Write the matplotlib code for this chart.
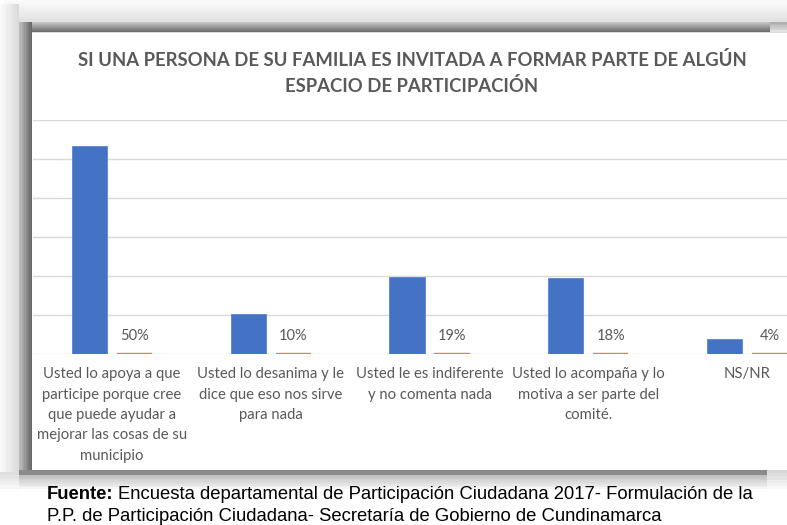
import matplotlib
matplotlib.use("Agg")
import matplotlib.pyplot as plt
from matplotlib.patches import Rectangle
import numpy as np

# ---------------- data ----------------
categories = [
    "Usted lo apoya a que\nparticipe porque cree\nque puede ayudar a\nmejorar las cosas de su\nmunicipio",
    "Usted lo desanima y le\ndice que eso nos sirve\npara nada",
    "Usted le es indiferente\ny no comenta nada",
    "Usted lo acompaña y lo\nmotiva a ser parte del\ncomité.",
    "NS/NR",
]
counts = [534, 102, 198, 194, 39]          # blue series (frequency)
percents = [0.50, 0.10, 0.19, 0.18, 0.04]   # orange series (share)
pct_labels = ["50%", "10%", "19%", "18%", "4%"]

title = "SI UNA PERSONA DE SU FAMILIA ES INVITADA A FORMAR PARTE DE ALGÚN\nESPACIO DE PARTICIPACIÓN"
source_bold = "Fuente:"
source_line1 = "Encuesta departamental de Participación Ciudadana 2017- Formulación de la"
source_line2 = "P.P. de Participación Ciudadana- Secretaría de Gobierno de Cundinamarca"

# ---------------- figure ----------------
W, H = 787, 525
DPI = 100
fig = plt.figure(figsize=(W / DPI, H / DPI), dpi=DPI)
fig.patch.set_facecolor("white")

# background frame axes in pixel coordinates (y downwards)
bg = fig.add_axes([0, 0, 1, 1])
bg.set_xlim(0, W)
bg.set_ylim(H, 0)
bg.axis("off")


def grad_rect(x0, x1, y0, y1, c0, c1, horizontal=True, n=12):
    """gradient rectangle from grey value c0 to c1"""
    for i in range(n):
        t = i / max(n - 1, 1)
        c = c0 + (c1 - c0) * t
        col = (c / 255, c / 255, c / 255)
        if horizontal:
            xa = x0 + (x1 - x0) * i / n
            xb = x0 + (x1 - x0) * (i + 1) / n
            bg.add_patch(Rectangle((xa, y0), xb - xa + 0.3, y1 - y0, color=col, lw=0))
        else:
            ya = y0 + (y1 - y0) * i / n
            yb = y0 + (y1 - y0) * (i + 1) / n
            bg.add_patch(Rectangle((x0, ya), x1 - x0, yb - ya + 0.3, color=col, lw=0))


# light halo
grad_rect(4, W, 0, 22, 250, 226, horizontal=False, n=8)
grad_rect(0, 19, 4, 482, 250, 218, horizontal=True, n=8)
# dark top band
grad_rect(19, 770, 22, 32, 195, 108, horizontal=False, n=10)
grad_rect(770, W, 22, 32, 175, 225, horizontal=False, n=6)
# dark left band
grad_rect(19, 32, 22, 472, 190, 104, horizontal=True, n=10)
# bottom band
bg.add_patch(Rectangle((19, 470), 748, 5, color="#8a8a8a", lw=0))
grad_rect(19, 767, 475, 489, 192, 245, horizontal=False, n=8)
grad_rect(767, W, 470, 489, 215, 248, horizontal=False, n=6)
grad_rect(0, 19, 472, 492, 222, 252, horizontal=False, n=6)
# white chart panel
bg.add_patch(Rectangle((32, 33), W - 32, 437, color="white", lw=0))
bg.add_patch(Rectangle((32, 32), W - 32, 1.2, color="#dcdcdc", lw=0))

# ---------------- chart axes ----------------
left_px, right_px = 32.6, 826.4
top_px, base_px = 120, 354
ax = fig.add_axes([left_px / W, (H - base_px) / H,
                   (right_px - left_px) / W, (base_px - top_px) / H])
ax.set_facecolor("none")

x = np.arange(len(categories))
bw = 0.222
off = 0.142
ax.bar(x - off, counts, bw, color="#4472C4", edgecolor="#5b84cf",
       linewidth=0.6, zorder=3)
ax.bar(x + off, percents, bw, color="#ED7D31", edgecolor="#ED7D31",
       linewidth=1.7, zorder=4)

for xi, p, lab in zip(x, percents, pct_labels):
    ax.annotate(lab, (xi + off, p), xytext=(0, 12.6), textcoords="offset points",
                ha="center", va="center", fontsize=10.5, color="#595959",
                family=["Lato", "DejaVu Sans"])

ax.set_xlim(-0.5, len(categories) - 0.5)
ax.set_ylim(0, 600)
ax.set_yticks(np.arange(0, 601, 100))
ax.set_yticklabels([])
ax.tick_params(axis="y", length=0)
ax.grid(axis="y", color="#d9d9d9", linewidth=1.0, zorder=0)
ax.set_axisbelow(True)
for s in ax.spines.values():
    s.set_visible(False)

ax.set_xticks(x)
ax.set_xticklabels(categories, fontsize=10.7, color="#595959",
                   family=["Lato", "DejaVu Sans"], linespacing=1.58, va="top")
ax.tick_params(axis="x", length=0, pad=9.5)

# ---------------- title ----------------
fig.text(412 / W, 1 - 73 / H, title, ha="center", va="center",
         fontsize=13.3, fontweight="bold", color="#595959",
         family=["Lato", "DejaVu Sans"], linespacing=1.58)

# ---------------- source ----------------
fx = 46.7 / W
fs = 13.3
t1 = fig.text(fx, 1 - 499.3 / H, source_bold, ha="left", va="baseline",
              fontsize=fs, fontweight="bold", color="black",
              family=["Liberation Sans", "DejaVu Sans"])
fig.canvas.draw()
r = fig.canvas.get_renderer()
wb = t1.get_window_extent(r).width
fig.text(fx + (wb + 5.0) / W, 1 - 499.3 / H, source_line1, ha="left", va="baseline",
         fontsize=fs, color="black", family=["Liberation Sans", "DejaVu Sans"])
fig.text(fx, 1 - 520.7 / H, source_line2, ha="left", va="baseline",
         fontsize=fs, color="black", family=["Liberation Sans", "DejaVu Sans"])

fig.savefig("out.png", dpi=DPI)
